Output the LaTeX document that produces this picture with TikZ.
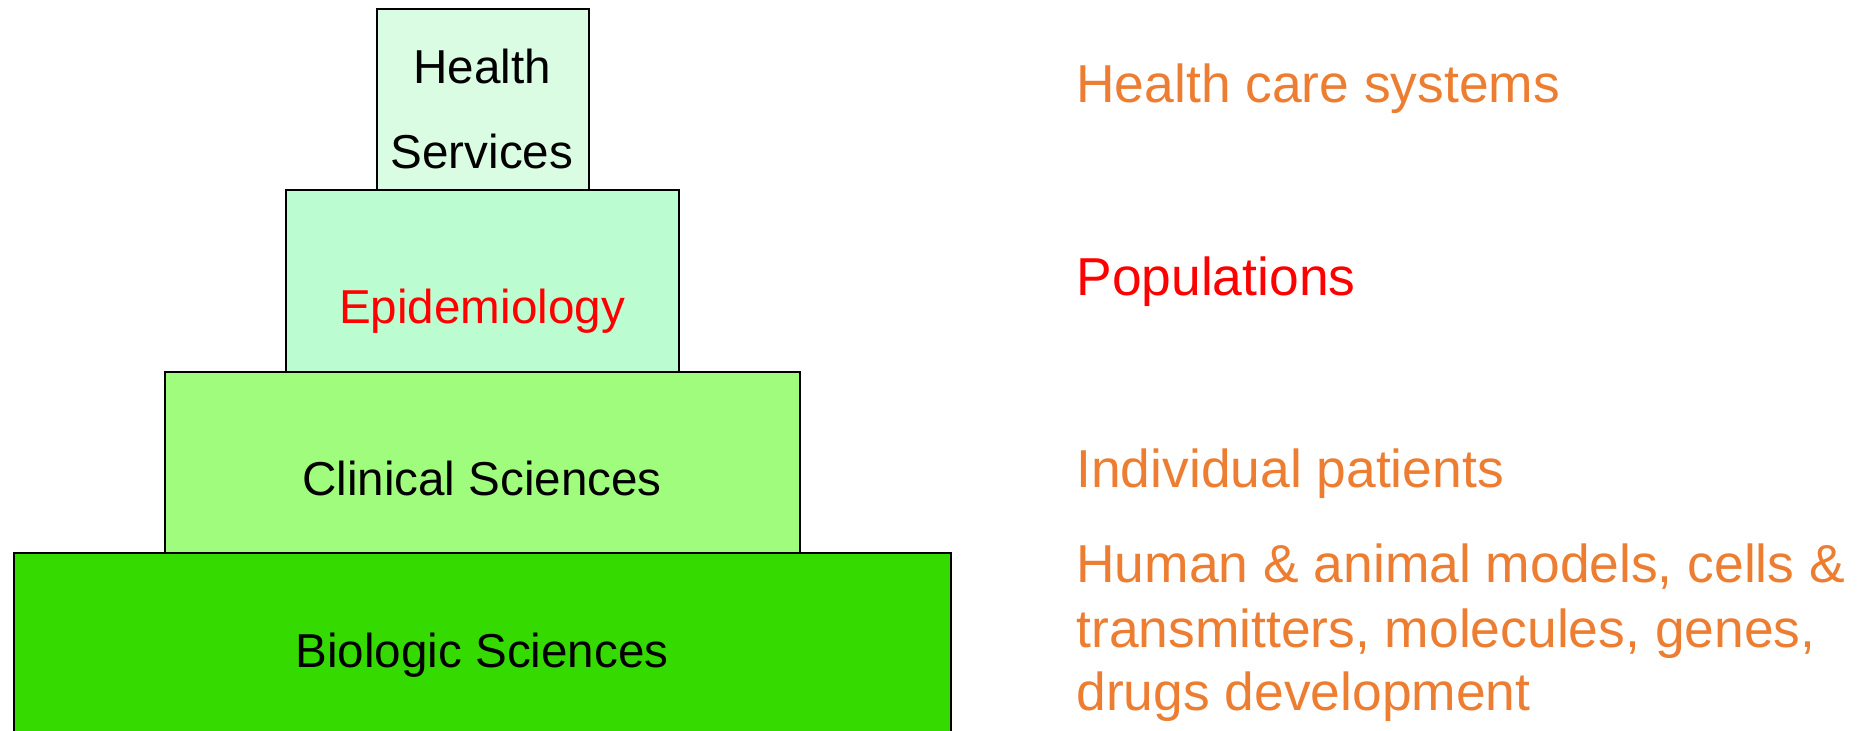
\documentclass[tikz,border=0pt]{standalone}
\usepackage{fontspec}
\setmainfont{Liberation Sans}
\usetikzlibrary{fit}
\definecolor{hsfill}{HTML}{D9FCE3}
\definecolor{epfill}{HTML}{BBFDD0}
\definecolor{clfill}{HTML}{A0FC7C}
\definecolor{bifill}{HTML}{35DA00}
\definecolor{orangeT}{HTML}{ED7D31}
\definecolor{redT}{HTML}{FF0000}
\begin{document}
\begin{tikzpicture}[x=0.5pt,y=-0.5pt,
  tier/.style={draw=black, line width=1pt, inner sep=0pt},
  lbl/.style={anchor=base, inner sep=0pt, font=\fontsize{23.8}{28}\selectfont},
  side/.style={anchor=base west, inner sep=0pt, text=orangeT, font=\fontsize{26.7}{32}\selectfont}]
\useasboundingbox (0,0) rectangle (1858,731);
% tiers
\node[tier, fill=bifill, fit={(13.5,553) (951,770)}] (bio) {};
\node[tier, fill=clfill, fit={(165,372) (800,553)}] (clin) {};
\node[tier, fill=epfill, fit={(285.5,190) (679,372)}] (epi) {};
\node[tier, fill=hsfill, fit={(376.5,9) (589,190)}] (hs) {};
% tier labels
\node[lbl] (hs1) at (482,84) {Health};
\node[lbl] (hs2) at (482,169) {Services};
\node[lbl, text=redT] (epil) at (482,324) {Epidemiology};
\node[lbl] (clinl) at (482,495.5) {Clinical Sciences};
\node[lbl] (biol) at (482,667.5) {Biologic Sciences};
% side labels
\node[side] (s1) at (1076,102.5) {Health care systems};
\node[side, text=redT] (s2) at (1076,295.5) {Populations};
\node[side] (s3) at (1076,488) {Individual patients};
\node[side] (s4a) at (1076,582.5) {Human \& animal models, cells \&};
\node[side] (s4b) at (1076,647) {transmitters, molecules, genes,};
\node[side] (s4c) at (1076,711) {drugs development};
\end{tikzpicture}
\end{document}
